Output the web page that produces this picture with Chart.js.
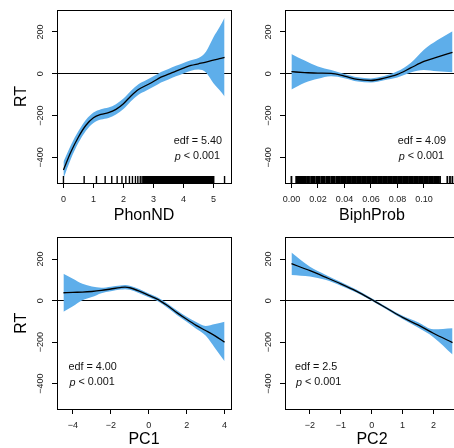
<!DOCTYPE html>
<html>
<head>
<meta charset="utf-8">
<script src="https://cdn.jsdelivr.net/npm/chart.js@4.4.1/dist/chart.umd.min.js"></script>
<style>
  html, body { margin: 0; padding: 0; background: #fff; overflow: hidden; }
  body { width: 454px; height: 448px; position: relative; }
  canvas { position: absolute; }
</style>
</head>
<body>
<canvas id="c1" width="240" height="224" style="left:0;top:0"></canvas>
<canvas id="c2" width="240" height="224" style="left:228px;top:0"></canvas>
<canvas id="c3" width="240" height="224" style="left:0;top:224px"></canvas>
<canvas id="c4" width="240" height="224" style="left:228px;top:224px"></canvas>
<script>
// GAM smooth terms: RT ~ s(PhonND) + s(BiphProb) + s(PC1) + s(PC2)

const FONT = '"Liberation Sans", Arial, Helvetica, sans-serif';
const BAND = '#5eaeea';

const Y_MIN = -522, Y_MAX = 305;
const yTicks = [-400, -200, 0, 200];

// PhonND
const phonX     = [0, 0.25, 0.5, 0.75, 1.0, 1.25, 1.5, 1.75, 2.0, 2.25, 2.5, 2.75, 3.0, 3.25, 3.5, 3.75, 4.0, 4.25, 4.5, 4.75, 5.0, 5.2, 5.37];
const phonFit   = [-460, -373, -302, -246, -210, -194, -186, -170, -143, -106, -75, -56, -37, -16, -2, 13, 27, 40, 48, 56, 65, 72, 79];
const phonUpper = [-420, -340, -274, -220, -185, -169, -161, -145, -118, -81, -50, -31, -12, 9, 23, 38, 52, 65, 76, 106, 175, 222, 268];
const phonLower = [-500, -406, -330, -272, -235, -219, -211, -195, -168, -131, -100, -81, -62, -41, -27, -12, 2, 15, 20, 6, -45, -78, -108];
const phonTicks = [0, 1, 2, 3, 4, 5];
const phonRug = [0, 0.69, 1.10, 1.39, 1.61, 1.79, 1.95, 2.08, 2.20, 2.30, 2.40, 2.48, 2.56, 2.62,
  2.67, 2.71, 2.75, 2.79, 2.83, 2.86, 2.89, 2.92, 2.95, 2.98, 3.01, 3.04, 3.07, 3.10, 3.13, 3.16,
  3.19, 3.22, 3.25, 3.28, 3.31, 3.34, 3.37, 3.40, 3.43, 3.46, 3.49, 3.52, 3.55, 3.58, 3.61, 3.64,
  3.67, 3.70, 3.73, 3.76, 3.79, 3.82, 3.85, 3.88, 3.91, 3.94, 3.97, 4.00, 4.03, 4.06, 4.09, 4.12,
  4.15, 4.18, 4.21, 4.24, 4.27, 4.30, 4.33, 4.36, 4.39, 4.42, 4.45, 4.48, 4.51, 4.54, 4.57, 4.60,
  4.63, 4.66, 4.69, 4.72, 4.75, 4.78, 4.81, 4.84, 4.87, 4.90, 4.93, 4.96, 4.99, 5.01, 5.37];

// BiphProb
const biphX     = [0, 0.01, 0.02, 0.03, 0.04, 0.05, 0.06, 0.07, 0.08, 0.09, 0.10, 0.11, 0.1216];
const biphFit   = [10, 6, 3, 2, -11, -27, -32, -21, -3, 28, 59, 80, 103];
const biphUpper = [95, 63, 35, 18, -1, -17, -22, -11, 12, 52, 115, 160, 203];
const biphLower = [-75, -43, -24, -12, -21, -37, -42, -31, -18, 6, 18, 12, 8];
const biphTicks = [0, 0.02, 0.04, 0.06, 0.08, 0.10];
const biphRug = [0, 0.0036, 0.0046, 0.0055, 0.0066, 0.0075, 0.0086,
  0.0095, 0.0107, 0.0121, 0.0133, 0.0148, 0.0160, 0.0172, 0.0187, 0.0199, 0.0211, 0.0226, 0.0238,
  0.0250, 0.0265, 0.0277, 0.0289, 0.0304, 0.0316, 0.0328, 0.0343, 0.0355, 0.0367, 0.0381, 0.0394,
  0.0406, 0.0420, 0.0433, 0.0445, 0.0459, 0.0472, 0.0484, 0.0498, 0.0511, 0.0523, 0.0537, 0.0550,
  0.0562, 0.0576, 0.0589, 0.0601, 0.0615, 0.0628, 0.0640, 0.0654, 0.0667, 0.0679, 0.0693, 0.0706,
  0.0718, 0.0732, 0.0745, 0.0757, 0.0771, 0.0784, 0.0796, 0.0810, 0.0823, 0.0835, 0.0849, 0.0862,
  0.0874, 0.0888, 0.0901, 0.0913, 0.0927, 0.0940, 0.0952, 0.0966, 0.0979, 0.0991, 0.1005, 0.1018,
  0.1030, 0.1044, 0.1057, 0.1069, 0.1083, 0.1096, 0.1108, 0.1122, 0.1177, 0.1197, 0.1215];

// PC1
const pc1X     = [-4.5, -4, -3.5, -3, -2.5, -2, -1.5, -1.25, -1, -0.5, 0, 0.5, 1, 1.5, 2, 2.5, 3, 3.5, 4];
const pc1Fit   = [38, 40, 41, 44, 49, 56, 63, 65, 62, 46, 25, 5, -25, -59, -90, -119, -144, -170, -200];
const pc1Upper = [129, 105, 81, 68, 62, 67, 73, 75, 72, 56, 34, 14, -15, -48, -78, -103, -122, -113, -102];
const pc1Lower = [-54, -27, 2, 17, 36, 45, 53, 55, 52, 36, 16, -4, -35, -70, -102, -135, -168, -229, -292];
const pc1Ticks = [-4, -2, 0, 2, 4];

// PC2
const pc2X     = [-2.6, -2, -1.5, -1, -0.5, 0, 0.5, 1, 1.5, 2, 2.62];
const pc2Fit   = [178, 144, 113, 81, 46, 5, -38, -81, -117, -157, -202];
const pc2Upper = [232, 163, 125, 90, 53, 11, -32, -73, -104, -138, -133];
const pc2Lower = [124, 116, 100, 72, 39, -1, -44, -89, -130, -176, -260];
const pc2Ticks = [-2, -1, 0, 1, 2];

const minus = v => (v < 0 ? '\u2212' + Math.abs(v) : String(v));

function makePanel(id, p) {
  const pts = arr => p.xs.map((x, i) => ({ x: x, y: arr[i] }));

  const deco = {
    id: 'deco' + id,
    afterDraw(chart) {
      const { ctx, chartArea: a } = chart;
      const xs = chart.scales.x;
      ctx.save();
      // rug
      if (p.rug) {
        ctx.strokeStyle = '#000';
        ctx.lineWidth = p.rugWidth;
        ctx.beginPath();
        p.rug.forEach(v => {
          const px = xs.getPixelForValue(v);
          ctx.moveTo(px, a.bottom);
          ctx.lineTo(px, a.bottom - 7);
        });
        ctx.stroke();
      }
      // box
      ctx.strokeStyle = '#000';
      ctx.lineWidth = 1;
      ctx.strokeRect(Math.round(a.left) + 0.5, Math.round(a.top) + 0.5,
        Math.round(a.right - a.left), Math.round(a.bottom - a.top));
      // edf / p annotation
      ctx.fillStyle = '#111';
      ctx.textBaseline = 'middle';
      const f = '10.8px ' + FONT, fi = 'italic 10.8px ' + FONT;
      const y1 = a.bottom - 42, y2 = a.bottom - 26.5;
      const rest = '< 0.001';
      ctx.font = f;
      const wRest = ctx.measureText(rest).width;
      ctx.font = fi;
      const wP = ctx.measureText('p').width;
      if (p.noteSide === 'right') {
        const xr = a.right - p.noteInset;
        ctx.font = f; ctx.textAlign = 'right';
        ctx.fillText('edf = ' + p.edf, xr, y1);
        ctx.fillText(rest, xr - 2, y2);
        ctx.font = fi;
        ctx.fillText('p', xr - 2 - wRest - 3, y2);
      } else {
        const xl = a.left + p.noteInset;
        ctx.font = f; ctx.textAlign = 'left';
        ctx.fillText('edf = ' + p.edf, xl, y1);
        ctx.font = fi;
        ctx.fillText('p', xl + 1, y2);
        ctx.font = f;
        ctx.fillText(rest, xl + 1 + wP + 3, y2);
      }
      ctx.restore();
    }
  };

  return new Chart(document.getElementById(id), {
    type: 'line',
    data: {
      datasets: [
        { data: pts(p.fit), borderColor: '#000', borderWidth: 1.3, pointRadius: 0,
          fill: false, cubicInterpolationMode: 'monotone' },
        { data: pts(p.upper), borderColor: 'transparent', borderWidth: 0, pointRadius: 0,
          backgroundColor: BAND, fill: '+1', cubicInterpolationMode: 'monotone' },
        { data: pts(p.lower), borderColor: 'transparent', borderWidth: 0, pointRadius: 0,
          fill: false, cubicInterpolationMode: 'monotone' }
      ]
    },
    options: {
      responsive: false,
      animation: false,
      events: [],
      layout: { padding: { top: p.padTop, right: 9, left: 0, bottom: 0 } },
      plugins: { legend: { display: false }, tooltip: { enabled: false } },
      scales: {
        x: {
          type: 'linear', min: p.xMin, max: p.xMax,
          afterBuildTicks: s => { s.ticks = p.xTicks.map(v => ({ value: v })); },
          afterFit: s => { s.height = p.xH; },
          grid: { display: true, drawOnChartArea: false, drawTicks: true, tickLength: 5,
                  tickColor: '#000', tickWidth: 1 },
          border: { display: false },
          ticks: { autoSkip: false, maxRotation: 0, minRotation: 0, padding: 6.5, color: '#222',
                   font: { family: FONT, size: 9 }, callback: p.xFmt },
          title: { display: true, text: p.xTitle, color: '#000',
                   font: { family: FONT, size: 16, lineHeight: 1 }, padding: { top: 0, bottom: 0 } }
        },
        y: {
          type: 'linear', min: Y_MIN, max: Y_MAX, z: 1,
          afterBuildTicks: s => { s.ticks = yTicks.map(v => ({ value: v })); },
          afterFit: s => { s.width = 57; },
          grid: { drawOnChartArea: true, drawTicks: true, tickLength: 5, tickColor: '#000', tickWidth: 1,
                  lineWidth: 1,
                  color: c => (c.tick && c.tick.value === 0 ? '#000' : 'rgba(0,0,0,0)') },
          border: { display: false },
          ticks: { minRotation: 90, maxRotation: 90, crossAlign: 'center', padding: 1, color: '#222',
                   font: { family: FONT, size: 9 }, callback: v => minus(v) },
          title: { display: p.yTitle, text: 'RT', color: '#000',
                   font: { family: FONT, size: 16, lineHeight: 1 }, padding: { top: 13.7, bottom: 0 } }
        }
      }
    },
    plugins: [deco]
  });
}

makePanel('c1', {
  xs: phonX, fit: phonFit, upper: phonUpper, lower: phonLower,
  xMin: -0.215, xMax: 5.585, xTicks: phonTicks, xFmt: v => minus(v), xTitle: 'PhonND',
  yTitle: true, rug: phonRug, rugWidth: 1.4, edf: '5.40', noteSide: 'right', noteInset: 9, padTop: 10, xH: 41
});
makePanel('c2', {
  xs: biphX, fit: biphFit, upper: biphUpper, lower: biphLower,
  xMin: -0.00486, xMax: 0.1265, xTicks: biphTicks, xFmt: v => v.toFixed(2), xTitle: 'BiphProb',
  yTitle: false, rug: biphRug, rugWidth: 1.8, edf: '4.09', noteSide: 'right', noteInset: 13, padTop: 10, xH: 41
});
makePanel('c3', {
  xs: pc1X, fit: pc1Fit, upper: pc1Upper, lower: pc1Lower,
  xMin: -4.84, xMax: 4.34, xTicks: pc1Ticks, xFmt: v => minus(v), xTitle: 'PC1',
  yTitle: true, rug: null, edf: '4.00', noteSide: 'left', noteInset: 11.5, padTop: 13.3, xH: 39
});
makePanel('c4', {
  xs: pc2X, fit: pc2Fit, upper: pc2Upper, lower: pc2Lower,
  xMin: -2.81, xMax: 2.83, xTicks: pc2Ticks, xFmt: v => minus(v), xTitle: 'PC2',
  yTitle: false, rug: null, edf: '2.5', noteSide: 'left', noteInset: 10, padTop: 13.3, xH: 39
});
</script>
</body>
</html>
